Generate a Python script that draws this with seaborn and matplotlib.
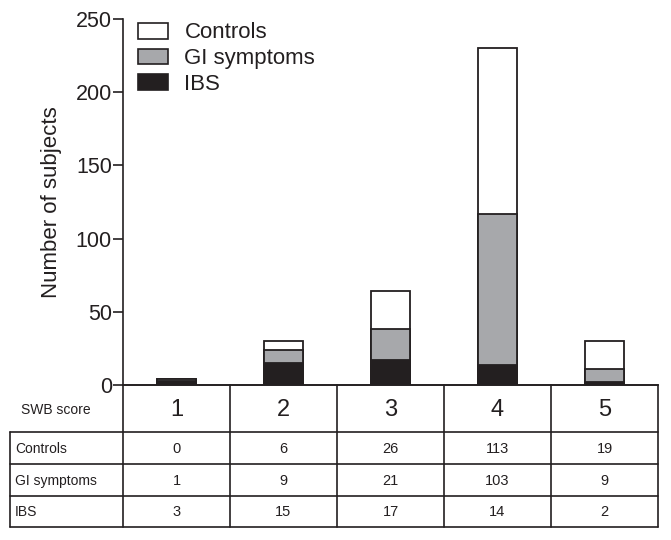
import matplotlib
matplotlib.use("Agg")
import matplotlib.pyplot as plt
from matplotlib.patches import Patch
import seaborn as sns
import pandas as pd
import numpy as np

scores = ["1", "2", "3", "4", "5"]
controls = [0, 6, 26, 113, 19]
gi_symptoms = [1, 9, 21, 103, 9]
ibs = [3, 15, 17, 14, 2]
groups = ["Controls", "GI symptoms", "IBS"]
colors = {"Controls": "white", "GI symptoms": "#a7a8ab", "IBS": "#231f20"}

sns.set_style("white")
plt.rcParams["font.family"] = ["Liberation Sans", "DejaVu Sans"]

df = pd.DataFrame({"score": scores, "Controls": controls,
                   "GI symptoms": gi_symptoms, "IBS": ibs})
df["top_ibs"] = df["IBS"]
df["top_gi"] = df["IBS"] + df["GI symptoms"]
df["top_ctrl"] = df["top_gi"] + df["Controls"]

fig = plt.figure(figsize=(6.71, 5.40), dpi=100)
W, H = 671, 540
x0, x1, y0, y1 = 123, 658, 385, 19
ax = fig.add_axes([x0 / W, 1 - y0 / H, (x1 - x0) / W, (y0 - y1) / H])

# stacked bars: draw cumulative totals, tallest first
for col, grp in [("top_ctrl", "Controls"), ("top_gi", "GI symptoms"), ("top_ibs", "IBS")]:
    sns.barplot(data=df, x="score", y=col, order=scores, color=colors[grp],
                edgecolor="#231f20", linewidth=1.3, width=0.37, ax=ax,
                saturation=1)

ax.set_ylim(0, 250)
ax.set_xlim(-0.5, 4.5)
ax.set_yticks([0, 50, 100, 150, 200, 250])
ax.set_xticks([])
ax.set_xlabel("")
ax.set_ylabel("Number of subjects", fontsize=16, labelpad=10, color="#231f20")
ax.tick_params(axis="y", direction="out", length=7, width=1.2, labelsize=15.5,
               left=True, color="#231f20", labelcolor="#231f20", pad=1)
for s in ["top", "right"]:
    ax.spines[s].set_visible(False)
for s in ["left", "bottom"]:
    ax.spines[s].set_linewidth(1.2)
    ax.spines[s].set_color("#231f20")

handles = [Patch(facecolor=colors[g], edgecolor="#231f20", linewidth=1.2, label=g)
           for g in groups]
ax.legend(handles=handles, loc="upper left", bbox_to_anchor=(0.011, 1.015),
          frameon=False, fontsize=16, handlelength=1.35, handleheight=0.72,
          handletextpad=0.75, labelspacing=0.22, borderaxespad=0,
          labelcolor="#231f20")

# table below the axis
tx0 = 10
tab = fig.add_axes([0, 0, 1, 1])
tab.set_xlim(0, W)
tab.set_ylim(H, 0)
tab.axis("off")
lc = "#231f20"
lw = 1.2
col_edges = np.linspace(x0, x1, len(scores) + 1)
row_edges = [385, 432, 464, 496, 527]

# header row
tab.plot([x0, x1], [row_edges[0], row_edges[0]], color=lc, lw=lw)
for xe in col_edges:
    tab.plot([xe, xe], [row_edges[0], row_edges[-1]], color=lc, lw=lw)
for ye in row_edges[1:]:
    tab.plot([tx0, x1], [ye, ye], color=lc, lw=lw)
tab.plot([tx0, tx0], [row_edges[1], row_edges[-1]], color=lc, lw=lw)

centers = (col_edges[:-1] + col_edges[1:]) / 2
ymid = (row_edges[0] + row_edges[1]) / 2 + 2
tab.text(56, ymid, "SWB score", ha="center", va="center", fontsize=10, color=lc)
for xc, s in zip(centers, scores):
    tab.text(xc, ymid, s, ha="center", va="center", fontsize=17, color=lc)

rows = [("Controls", controls), ("GI symptoms", gi_symptoms), ("IBS", ibs)]
for i, (name, vals) in enumerate(rows):
    ym = (row_edges[i + 1] + row_edges[i + 2]) / 2 + 1
    tab.text(tx0 + 5, ym, name, ha="left", va="center", fontsize=10, color=lc)
    for xc, v in zip(centers, vals):
        tab.text(xc, ym, str(v), ha="center", va="center", fontsize=10.5, color=lc)

fig.savefig("out.png", dpi=100)
